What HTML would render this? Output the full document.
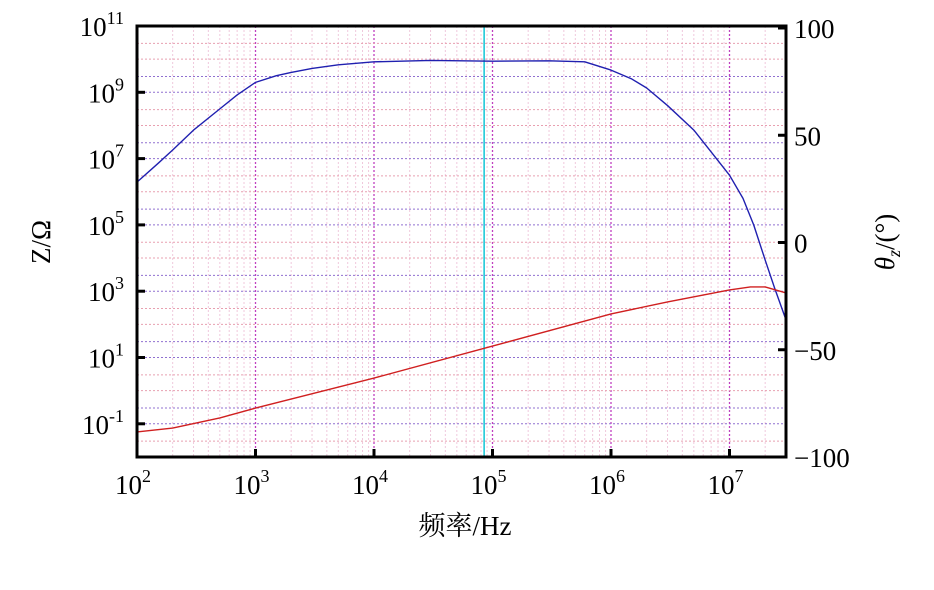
<!DOCTYPE html>
<html><head><meta charset="utf-8"><style>
body{margin:0;background:#fff}
svg text{font-family:"Liberation Serif","Noto Serif CJK SC",serif;fill:#000}
</style></head><body>
<svg id="c" width="934" height="585"></svg>
<script>
const freqZ=[1e2,1.5e2,2e2,3e2,5e2,7e2,1e3,1.5e3,2e3,3e3,5e3,1e4,3e4,1e5,3e5,6e5,1e6,1.5e6,2e6,3e6,5e6,7e6,1e7,1.3e7,1.6e7,2e7,2.4e7,3e7];
const logZ=[6.29,6.85,7.26,7.86,8.5,8.92,9.3,9.5,9.6,9.72,9.83,9.92,9.96,9.94,9.95,9.92,9.67,9.4,9.13,8.6,7.86,7.2,6.5,5.8,5.0,3.94,3.1,2.13];
const freqP=[1e2,2e2,5e2,1e3,1e4,1e5,1e6,3e6,1e7,1.5e7,2e7,3e7];
const phase=[-88.3,-86.5,-81.8,-77.2,-63.2,-48.3,-33.3,-27.7,-22.1,-20.7,-20.7,-23.5];
const xTicks=[2,3,4,5,6,7];
const yTicks=[-1,1,3,5,7,9,11];
const pTicks=[-100,-50,0,50,100];
const cursorFreq=8.5e4;
const L=137,R=786,T=26,B=457;
const xs=f=>L+(Math.log10(f)-2)*118.5;
const ys=lz=>T+(11-lz)*33.15;
const yp=p=>28+(100-p)*2.145;
const svg=document.getElementById('c');const NS='http://www.w3.org/2000/svg';
function mk(t,a,p){const e=document.createElementNS(NS,t);for(const k in a)e.setAttribute(k,a[k]);(p||svg).appendChild(e);return e;}
const grid=mk('g',{});


for(let d=2;d<7.5;d++)for(let m=1;m<10;m++){const x=xs(m*Math.pow(10,d));if(x>R)break;
 mk('line',{x1:x,x2:x,y1:T,y2:B,stroke:m==1?'#c040c0':'#f0c8dc','stroke-width':m==1?1.3:1,'stroke-dasharray':'2,2'},grid);}
for(let lz=-2;lz<11;lz++)for(const m of [1,3]){const y=ys(lz+Math.log10(m));if(y<T||y>B)continue;
 mk('line',{x1:L,x2:R,y1:y,y2:y,stroke:lz%2?'#9070d0':'#e8a0b0','stroke-width':1,'stroke-dasharray':'2,2'},grid);}
const cur=mk('line',{x1:xs(cursorFreq),x2:xs(cursorFreq),y1:T,y2:B,stroke:'#20c8d8','stroke-width':1.6});


const zl=mk('polyline',{points:freqZ.map((f,i)=>xs(f)+','+ys(logZ[i])).join(' '),fill:'none',stroke:'#2020b0','stroke-width':1.4,'stroke-linejoin':'round'});


const pl=mk('polyline',{points:freqP.map((f,i)=>xs(f)+','+yp(phase[i])).join(' '),fill:'none',stroke:'#d02020','stroke-width':1.4,'stroke-linejoin':'round'});


const fr=mk('rect',{x:L,y:T,width:R-L,height:B-T,fill:'none',stroke:'#000','stroke-width':3});


xTicks.forEach(d=>{const x=xs(Math.pow(10,d));
 mk('line',{x1:x,x2:x,y1:B,y2:B-8,stroke:'#000','stroke-width':3});
 const t=mk('text',{x:x-4,y:B+37,'font-size':27,'text-anchor':'middle'});
 
 
 t.innerHTML='10<tspan dy="-12" font-size="18">'+d+'</tspan>';});
yTicks.forEach(d=>{const y=ys(d);
 mk('line',{x1:L,x2:L+8,y1:y,y2:y,stroke:'#000','stroke-width':3});
 const t=mk('text',{x:124,y:y+10,'font-size':27,'text-anchor':'end'});
 
 
 t.innerHTML='10<tspan dy="-12" font-size="18">'+d+'</tspan>';});
pTicks.forEach(p=>{const y=yp(p);
 mk('line',{x1:R,x2:R-8,y1:y,y2:y,stroke:'#000','stroke-width':3});
 const t=mk('text',{x:794,y:y+10,'font-size':27});
 
 
 t.textContent=(p<0?'\u2212':'')+Math.abs(p);});
const xt=mk('text',{x:465,y:535,'font-size':27,'text-anchor':'middle'});


xt.textContent='频率/Hz';
const yt=mk('text',{x:0,y:0,'font-size':27,'text-anchor':'middle',transform:'translate(50,242) rotate(-90)'});


yt.textContent='Z/Ω';
const rt=mk('text',{x:0,y:0,'font-size':27,'text-anchor':'middle',transform:'translate(894,242) rotate(-90)'});


rt.innerHTML='<tspan font-style="italic">θ</tspan><tspan font-style="italic" font-size="18" dy="6">z</tspan><tspan dy="-6">/(°)</tspan>';
</script>
</body></html>
